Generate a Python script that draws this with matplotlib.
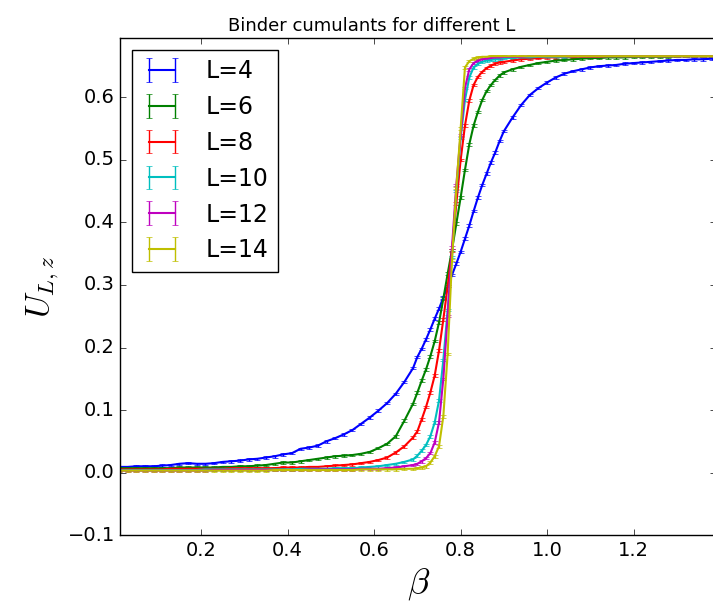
import numpy as np
import matplotlib
matplotlib.use('Agg')
import matplotlib.pyplot as plt

# beta grid: coarse below/above the transition, finer around it
beta = np.concatenate([
    np.round(np.arange(0.01, 0.70, 0.02), 2),
    np.round(np.arange(0.70, 0.905, 0.01), 2),
    np.round(np.arange(0.92, 1.405, 0.02), 2),
])

sizes = [4, 6, 8, 10, 12, 14]
colors = ['b', 'g', 'r', 'c', 'm', 'y']
errs = [0.002, 0.002, 0.002, 0.002, 0.002, 0.002]

U4 = [0.009, 0.009, 0.010, 0.010, 0.010, 0.011, 0.012, 0.014, 0.015, 0.014,
      0.014, 0.015, 0.017, 0.018, 0.019, 0.021, 0.022, 0.024, 0.026, 0.029,
      0.031, 0.038, 0.040, 0.043, 0.050, 0.055, 0.061, 0.068, 0.078, 0.088,
      0.099, 0.111, 0.126, 0.145, 0.167,
      0.185, 0.198, 0.213, 0.229, 0.246, 0.262, 0.280, 0.298, 0.316, 0.334,
      0.353, 0.374, 0.395, 0.418, 0.440, 0.460, 0.478, 0.496, 0.512, 0.530,
      0.546,
      0.568, 0.588, 0.604, 0.615, 0.624, 0.632, 0.638, 0.642, 0.645, 0.648,
      0.650, 0.651, 0.652, 0.654, 0.655, 0.656, 0.657, 0.658, 0.659, 0.660,
      0.660, 0.661, 0.661, 0.662, 0.662]

U6 = [0.007, 0.007, 0.007, 0.007, 0.007, 0.007, 0.007, 0.008, 0.008, 0.008,
      0.008, 0.008, 0.009, 0.009, 0.010, 0.010, 0.011, 0.012, 0.014, 0.016,
      0.016, 0.018, 0.020, 0.022, 0.024, 0.026, 0.027, 0.028, 0.030, 0.033,
      0.039, 0.046, 0.058, 0.083, 0.110,
      0.128, 0.147, 0.165, 0.186, 0.210, 0.240, 0.278, 0.318, 0.356, 0.398,
      0.440, 0.484, 0.525, 0.555, 0.577, 0.596, 0.610, 0.620, 0.628, 0.635,
      0.640,
      0.645, 0.649, 0.652, 0.655, 0.657, 0.659, 0.660, 0.661, 0.662, 0.663,
      0.663, 0.664, 0.664, 0.664, 0.665, 0.665, 0.665, 0.665, 0.665, 0.666,
      0.666, 0.666, 0.666, 0.666, 0.666]

U8 = [0.005, 0.005, 0.005, 0.005, 0.005, 0.005, 0.006, 0.006, 0.006, 0.006,
      0.006, 0.006, 0.006, 0.007, 0.007, 0.007, 0.007, 0.007, 0.007, 0.008,
      0.008, 0.008, 0.009, 0.009, 0.010, 0.011, 0.012, 0.013, 0.015, 0.017,
      0.020, 0.024, 0.032, 0.042, 0.056,
      0.066, 0.085, 0.105, 0.128, 0.155, 0.195, 0.245, 0.298, 0.355, 0.430,
      0.500, 0.555, 0.595, 0.620, 0.633, 0.641, 0.647, 0.651, 0.654, 0.656,
      0.657,
      0.659, 0.661, 0.662, 0.663, 0.664, 0.664, 0.665, 0.665, 0.665, 0.665,
      0.665, 0.666, 0.666, 0.666, 0.666, 0.666, 0.666, 0.666, 0.666, 0.666,
      0.666, 0.666, 0.666, 0.666, 0.666]

U10 = [0.004, 0.004, 0.004, 0.004, 0.004, 0.004, 0.004, 0.004, 0.004, 0.004,
       0.005, 0.005, 0.005, 0.005, 0.005, 0.005, 0.005, 0.005, 0.005, 0.005,
       0.005, 0.006, 0.006, 0.006, 0.006, 0.007, 0.007, 0.007, 0.008, 0.009,
       0.010, 0.012, 0.014, 0.017, 0.021,
       0.027, 0.035, 0.044, 0.058, 0.080, 0.115, 0.180, 0.260, 0.345, 0.450,
       0.535, 0.596, 0.632, 0.648, 0.654, 0.657, 0.659, 0.660, 0.661, 0.662,
       0.663,
       0.663, 0.664, 0.664, 0.665, 0.665, 0.665, 0.665, 0.666, 0.666, 0.666,
       0.666, 0.666, 0.666, 0.666, 0.666, 0.666, 0.666, 0.666, 0.666, 0.666,
       0.666, 0.666, 0.666, 0.666, 0.666]

U12 = [0.003, 0.003, 0.003, 0.003, 0.003, 0.003, 0.003, 0.003, 0.003, 0.003,
       0.003, 0.004, 0.004, 0.004, 0.004, 0.004, 0.004, 0.004, 0.004, 0.004,
       0.004, 0.004, 0.005, 0.005, 0.005, 0.005, 0.005, 0.005, 0.006, 0.006,
       0.006, 0.007, 0.008, 0.010, 0.012,
       0.014, 0.018, 0.023, 0.031, 0.048, 0.080, 0.150, 0.250, 0.360, 0.460,
       0.540, 0.615, 0.645, 0.655, 0.659, 0.661, 0.662, 0.663, 0.664, 0.664,
       0.665,
       0.665, 0.665, 0.666, 0.666, 0.666, 0.666, 0.666, 0.666, 0.666, 0.666,
       0.666, 0.666, 0.666, 0.666, 0.666, 0.666, 0.666, 0.666, 0.666, 0.666,
       0.666, 0.666, 0.666, 0.666, 0.666]

U14 = [0.003, 0.003, 0.003, 0.003, 0.003, 0.003, 0.003, 0.003, 0.003, 0.003,
       0.003, 0.003, 0.003, 0.003, 0.003, 0.003, 0.003, 0.003, 0.004, 0.004,
       0.004, 0.004, 0.004, 0.004, 0.004, 0.004, 0.004, 0.004, 0.005, 0.005,
       0.005, 0.005, 0.005, 0.006, 0.006,
       0.007, 0.008, 0.010, 0.016, 0.026, 0.042, 0.090, 0.190, 0.340, 0.455,
       0.550, 0.648, 0.658, 0.662, 0.664, 0.665, 0.665, 0.666, 0.666, 0.666,
       0.666,
       0.666, 0.666, 0.666, 0.666, 0.666, 0.666, 0.666, 0.666, 0.666, 0.666,
       0.666, 0.666, 0.666, 0.666, 0.666, 0.666, 0.666, 0.666, 0.666, 0.666,
       0.666, 0.666, 0.666, 0.666, 0.666]

curves = [U4, U6, U8, U10, U12, U14]

plt.style.use('classic')

fig = plt.figure(figsize=(7.13, 6.08), dpi=100, facecolor='white')
ax = fig.add_axes([0.169, 0.12, 0.835, 0.8174])

for L, U, c, e in zip(sizes, curves, colors, errs):
    ax.errorbar(beta, U, yerr=e, color=c, ecolor=c, capsize=2, lw=1.5,
                elinewidth=1, label='L=%d' % L)

ax.set_xlim(0.0137, 1.39)
ax.set_ylim(-0.1, 0.695)
ax.set_xticks([0.2, 0.4, 0.6, 0.8, 1.0, 1.2])
ax.set_yticks([-0.1, 0.0, 0.1, 0.2, 0.3, 0.4, 0.5, 0.6])
ax.tick_params(labelsize=14)

ax.set_title('Binder cumulants for different L', x=0.4225, fontsize=13)
ax.set_xlabel(r'$\beta$', fontsize=26)
ax.set_ylabel(r'$U_{L,z}$', fontsize=24)

ax.legend(loc='upper left', fontsize=17, handlelength=1.7, handletextpad=1.0)

fig.savefig('out.png', dpi=100, facecolor='white')
